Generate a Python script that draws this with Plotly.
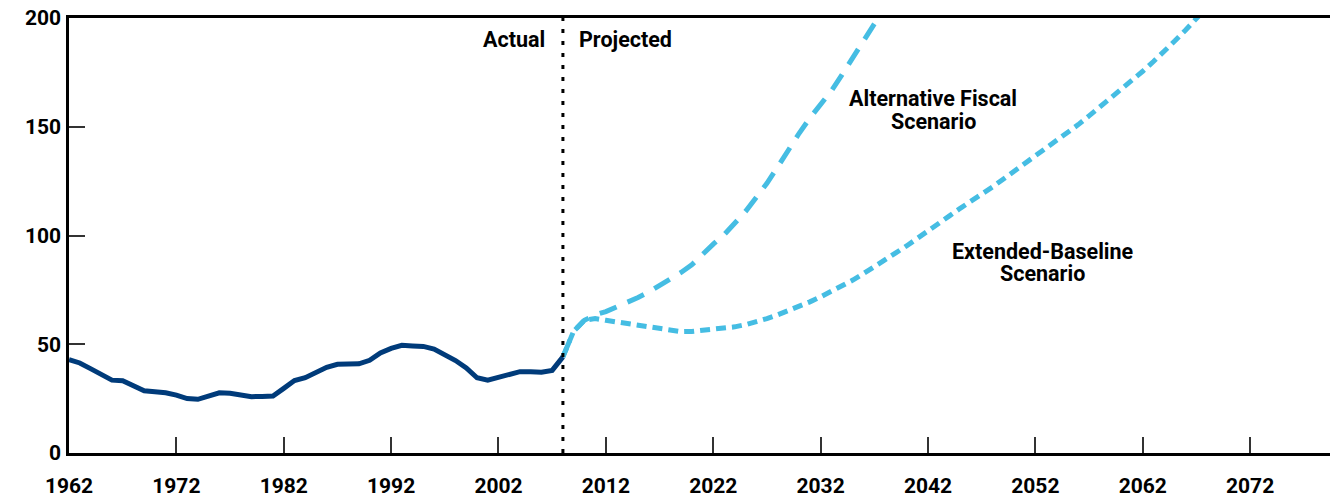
import plotly.graph_objects as go

# Actual (1962-2008)
actual_years = list(range(1962, 2009))
actual_vals = [42.9, 41.4, 38.8, 36.1, 33.5, 33.2, 31.0, 28.6, 28.2, 27.7,
               26.6, 25.0, 24.7, 26.2, 27.7, 27.5, 26.8, 25.9, 26.0, 26.2,
               29.7, 33.3, 34.6, 37.0, 39.4, 40.8, 41.0, 41.0, 42.6, 46.0,
               48.1, 49.5, 49.2, 49.0, 47.8, 45.2, 42.5, 39.1, 34.6, 33.5,
               34.8, 36.5, 37.4, 37.4, 37.1, 38.0, 44.2]

# Alternative Fiscal Scenario (2008-2038)
alt_years = list(range(2008, 2039))
alt_vals = [44.2, 56.0, 61.0, 63.5, 65.0, 67.0, 69.5, 71.5, 74.0, 77.0,
            79.5, 83.0, 86.5, 91.5, 96.0, 100.3, 105.5, 111.0, 117.5, 124.0,
            131.5, 139.5, 147.0, 154.0, 160.5, 166.5, 174.0, 181.5, 189.0, 197.0,
            205.0]

# Extended-Baseline Scenario (2008-2068)
ext_years = list(range(2008, 2069))
ext_vals = [44.2, 56.0, 61.0, 61.8, 61.0, 60.2, 59.6, 59.0, 58.3, 57.3,
            56.2, 55.8, 55.9, 56.3, 56.7, 57.2, 58.0, 59.0, 60.3, 61.8,
            63.5, 65.4, 67.5, 69.5, 71.8, 74.2, 76.8, 79.5, 82.5, 85.5,
            88.7, 92.0, 95.2, 98.5, 101.8, 105.3, 109.0, 112.5, 115.5, 119.0,
            122.3, 125.8, 129.3, 133.0, 136.5, 140.0, 143.5, 147.3, 151.0, 155.0,
            159.0, 163.0, 167.0, 171.3, 175.5, 180.0, 184.5, 189.5, 194.5, 200.0,
            205.0]

x_ticks = list(range(1962, 2080, 10))
y_ticks = [0, 50, 100, 150, 200]

# Text labels
labels = [
    ("Actual", 2006.55, 189.9, "right"),
    ("Projected", 2009.34, 189.9, "left"),
    ("Alternative Fiscal", 2042.5, 163.0, "center"),
    ("Scenario", 2042.5, 152.5, "center"),
    ("Extended-Baseline", 2052.7, 92.7, "center"),
    ("Scenario", 2052.7, 82.6, "center"),
]

DARK = "#003B7A"
LIGHT = "#45BDE3"
FONT = "Roboto"

fig = go.Figure()
fig.add_trace(go.Scatter(x=ext_years, y=ext_vals, mode="lines",
                         line=dict(color=LIGHT, width=5, dash="10px,6px"),
                         hoverinfo="skip", showlegend=False))
fig.add_trace(go.Scatter(x=alt_years, y=alt_vals, mode="lines",
                         line=dict(color=LIGHT, width=5, dash="18px,12px"),
                         hoverinfo="skip", showlegend=False))
fig.add_trace(go.Scatter(x=actual_years, y=actual_vals, mode="lines",
                         line=dict(color=DARK, width=5),
                         hoverinfo="skip", showlegend=False))

fig.add_shape(type="line", x0=2008, x1=2008, y0=0, y1=1, xref="x", yref="paper",
              line=dict(color="black", width=3, dash="4px,8px"), layer="above")

tfont = dict(family=FONT, size=21.5, color="black", weight="bold")
for txt, xv, yv, anc in labels:
    fig.add_annotation(x=xv, y=yv, xref="x", yref="y", text=txt,
                       showarrow=False, xanchor=anc, yanchor="middle", font=tfont)

fig.update_xaxes(range=[1962, 2080], tickvals=x_ticks,
                 ticktext=[str(v) for v in x_ticks],
                 ticks="inside", ticklen=16, tickwidth=1.5, tickcolor="#333",
                 showline=True, linecolor="black", linewidth=2.5, mirror=True,
                 showgrid=False, zeroline=False, automargin=False,
                 ticklabeloverflow="allow",
                 tickfont=dict(family=FONT, size=21, color="black", weight="bold"),
                 ticklabelstandoff=12)
fig.update_yaxes(range=[0, 200], tickvals=y_ticks,
                 ticks="inside", ticklen=16, tickwidth=1.5, tickcolor="#333",
                 showline=True, linecolor="black", linewidth=2.5, mirror=True,
                 showgrid=False, zeroline=False, automargin=False,
                 ticklabeloverflow="allow",
                 tickfont=dict(family=FONT, size=21, color="black", weight="bold"),
                 ticklabelstandoff=1)

fig.update_layout(width=1330, height=493,
                  margin=dict(l=61, r=2.3, t=9.5, b=48.25),
                  plot_bgcolor="white", paper_bgcolor="white",
                  showlegend=False)

fig.write_html("out.html")
